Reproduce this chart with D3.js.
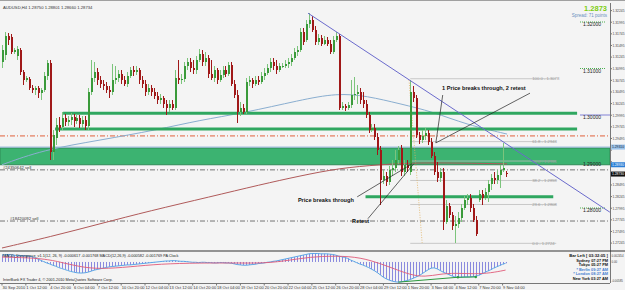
<!DOCTYPE html>
<html><head><meta charset="utf-8">
<script src="https://cdn.jsdelivr.net/npm/d3@7/dist/d3.min.js"></script>
<style>html,body{margin:0;padding:0;background:#fff;overflow:hidden}svg{display:block;font-family:"Liberation Sans",Arial,sans-serif}</style>
</head><body><svg id="c" width="625" height="290"></svg>
<script>
// ---------- DATA ----------
const symbolInfo = "AUDUSD,H4  1.28750 1.28801 1.28660 1.28734";
const opens = [1.3114,1.3129,1.3170,1.3168,1.3136,1.3127,1.3140,1.3093,1.3075,1.3077,1.3058,1.3054,1.3058,1.3047,1.3054,1.3084,1.3112,1.2921,1.2951,1.2979,1.2974,1.2994,1.2985,1.2989,1.2996,1.2987,1.2994,1.2981,1.2989,1.2976,1.3050,1.3080,1.3093,1.3075,1.3067,1.3062,1.3054,1.3050,1.3075,1.3080,1.3088,1.3075,1.3067,1.3084,1.3097,1.3093,1.3097,1.3075,1.3067,1.3050,1.3058,1.3050,1.3041,1.3032,1.3037,1.3024,1.3015,1.3024,1.3015,1.3080,1.3075,1.3077,1.3105,1.3114,1.3101,1.3097,1.3118,1.3131,1.3114,1.3123,1.3088,1.3080,1.3097,1.3075,1.3086,1.3097,1.3088,1.3108,1.3067,1.3043,1.3007,1.3015,1.3007,1.3071,1.3075,1.3067,1.3075,1.3071,1.3084,1.3090,1.3101,1.3114,1.3105,1.3097,1.3105,1.3105,1.3110,1.3114,1.3123,1.3136,1.3140,1.3179,1.3161,1.3196,1.3204,1.3183,1.3157,1.3166,1.3153,1.3161,1.3153,1.3136,1.3161,1.3170,1.3015,1.3019,1.3015,1.3022,1.3043,1.3045,1.3050,1.3032,1.3024,1.3000,1.2968,1.2972,1.2953,1.2925,1.2860,1.2869,1.2856,1.2882,1.2886,1.2903,1.2929,1.2878,1.2893,1.2878,1.3050,1.3037,1.2957,1.2946,1.2955,1.2961,1.2942,1.2912,1.2878,1.2865,1.2878,1.2770,1.2804,1.2785,1.2761,1.2766,1.2779,1.2800,1.2817,1.2822,1.2800,1.2774,1.2817,1.2830,1.2822,1.2835,1.2852,1.2865,1.2860,1.2871,1.2882,1.2875];
const highs = [1.3151,1.3179,1.3176,1.3174,1.3144,1.3148,1.3144,1.3097,1.3084,1.3082,1.3065,1.3062,1.3062,1.3058,1.3093,1.3118,1.3118,1.2968,1.2994,1.2996,1.3007,1.3002,1.2998,1.3004,1.3002,1.3002,1.3000,1.2998,1.2998,1.3058,1.3118,1.3114,1.3101,1.3084,1.3075,1.3071,1.3062,1.3110,1.3105,1.3097,1.3097,1.3084,1.3093,1.3103,1.3105,1.3105,1.3101,1.3084,1.3075,1.3067,1.3065,1.3058,1.3050,1.3045,1.3041,1.3032,1.3032,1.3032,1.3097,1.3118,1.3088,1.3114,1.3123,1.3123,1.3118,1.3127,1.3142,1.3140,1.3136,1.3129,1.3118,1.3105,1.3101,1.3097,1.3105,1.3105,1.3114,1.3114,1.3075,1.3054,1.3028,1.3024,1.3080,1.3084,1.3080,1.3084,1.3084,1.3093,1.3101,1.3110,1.3123,1.3123,1.3118,1.3112,1.3112,1.3118,1.3123,1.3131,1.3144,1.3148,1.3187,1.3187,1.3204,1.3219,1.3213,1.3191,1.3174,1.3172,1.3170,1.3168,1.3161,1.3170,1.3179,1.3174,1.3028,1.3024,1.3028,1.3075,1.3082,1.3065,1.3058,1.3050,1.3032,1.3007,1.2981,1.2981,1.2961,1.2933,1.2882,1.2878,1.2890,1.2903,1.2925,1.2933,1.2936,1.2903,1.2903,1.3075,1.3062,1.3043,1.2964,1.2968,1.2972,1.2968,1.2951,1.2921,1.2899,1.2886,1.2886,1.2817,1.2811,1.2792,1.2783,1.2792,1.2809,1.2826,1.2830,1.2830,1.2809,1.2783,1.2839,1.2839,1.2843,1.2860,1.2873,1.2878,1.2882,1.2893,1.2940,1.2880];
const lows = [1.3101,1.3118,1.3151,1.3131,1.3131,1.3118,1.3086,1.3065,1.3071,1.3054,1.3047,1.3043,1.3037,1.3032,1.3050,1.3075,1.2903,1.2903,1.2936,1.2964,1.2968,1.2976,1.2976,1.2979,1.2974,1.2981,1.2972,1.2972,1.2968,1.2968,1.3043,1.3071,1.3065,1.3058,1.3054,1.3047,1.3037,1.3043,1.3067,1.3071,1.3067,1.3062,1.3060,1.3080,1.3084,1.3086,1.3067,1.3058,1.3041,1.3043,1.3041,1.3034,1.3024,1.3024,1.3015,1.3000,1.3007,1.3011,1.3011,1.3067,1.3067,1.3071,1.3097,1.3093,1.3088,1.3088,1.3114,1.3105,1.3105,1.3080,1.3075,1.3071,1.3067,1.3071,1.3080,1.3082,1.3084,1.3062,1.3037,1.2983,1.2998,1.3002,1.3002,1.3062,1.3058,1.3062,1.3065,1.3067,1.3075,1.3086,1.3093,1.3097,1.3088,1.3093,1.3101,1.3101,1.3101,1.3105,1.3118,1.3127,1.3136,1.3151,1.3157,1.3187,1.3179,1.3151,1.3151,1.3148,1.3151,1.3148,1.3131,1.3131,1.3157,1.3011,1.3011,1.3009,1.3011,1.3015,1.3032,1.3024,1.3024,1.3015,1.2994,1.2961,1.2964,1.2946,1.2914,1.2807,1.2852,1.2847,1.2850,1.2869,1.2878,1.2895,1.2869,1.2869,1.2878,1.2871,1.3028,1.2951,1.2938,1.2940,1.2946,1.2936,1.2908,1.2871,1.2856,1.2856,1.2753,1.2766,1.2779,1.2753,1.2725,1.2757,1.2770,1.2796,1.2807,1.2792,1.2770,1.2740,1.2813,1.2807,1.2817,1.2813,1.2839,1.2852,1.2852,1.2843,1.2878,1.2866];
const closes = [1.3140,1.3170,1.3161,1.3136,1.3140,1.3142,1.3093,1.3075,1.3080,1.3058,1.3054,1.3058,1.3047,1.3054,1.3084,1.3112,1.2921,1.2957,1.2979,1.2972,1.2994,1.2985,1.2989,1.2996,1.2987,1.2994,1.2981,1.2989,1.2976,1.3050,1.3080,1.3093,1.3075,1.3067,1.3062,1.3054,1.3050,1.3075,1.3080,1.3088,1.3075,1.3067,1.3084,1.3097,1.3093,1.3097,1.3075,1.3067,1.3050,1.3058,1.3050,1.3041,1.3032,1.3037,1.3024,1.3015,1.3024,1.3015,1.3080,1.3075,1.3077,1.3105,1.3114,1.3101,1.3097,1.3118,1.3131,1.3114,1.3123,1.3088,1.3080,1.3097,1.3075,1.3086,1.3097,1.3088,1.3108,1.3067,1.3043,1.3007,1.3015,1.3007,1.3071,1.3075,1.3067,1.3075,1.3071,1.3084,1.3090,1.3101,1.3114,1.3105,1.3097,1.3105,1.3106,1.3110,1.3114,1.3123,1.3136,1.3140,1.3179,1.3157,1.3196,1.3204,1.3183,1.3157,1.3166,1.3153,1.3161,1.3153,1.3136,1.3161,1.3170,1.3015,1.3019,1.3015,1.3022,1.3043,1.3045,1.3050,1.3032,1.3024,1.3000,1.2968,1.2972,1.2953,1.2925,1.2860,1.2869,1.2856,1.2882,1.2886,1.2903,1.2925,1.2878,1.2893,1.2886,1.3050,1.3037,1.2957,1.2946,1.2955,1.2961,1.2942,1.2912,1.2878,1.2865,1.2878,1.2770,1.2804,1.2785,1.2761,1.2766,1.2779,1.2800,1.2817,1.2822,1.2800,1.2774,1.2744,1.2830,1.2822,1.2835,1.2852,1.2865,1.2860,1.2871,1.2882,1.2886,1.2873];

const dateLabels = ["30 Sep 2010","1 Oct 12:00","4 Oct 20:00","6 Oct 04:00","7 Oct 12:00","10 Oct 20:00","12 Oct 04:00","13 Oct 12:00","14 Oct 20:00","18 Oct 04:00","19 Oct 12:00","20 Oct 20:00","22 Oct 04:00","25 Oct 12:00","26 Oct 20:00","28 Oct 04:00","29 Oct 12:00","1 Nov 20:00","3 Nov 04:00","4 Nov 12:00","7 Nov 20:00","9 Nov 04:00"];
const priceTicks = [1.32245,1.31995,1.31745,1.31495,1.31245,1.30995,1.30745,1.30495,1.30245,1.29995,1.29745,1.29495,1.29245,1.28995,1.28745,1.28495,1.28245,1.27995,1.27745,1.27495,1.27245];
const roundLevels = [1.32,1.31,1.30,1.29,1.28];

// moving averages, sampled [bar, price]
const maFast = [[0,1.2893],[13.8,1.2925],[32.9,1.2946],[52,1.2968],[66.4,1.2989],[80.9,1.3004],[100,1.3032],[112.4,1.3047],[122.5,1.3041],[133.6,1.3024],[144.6,1.3007],[156,1.2979],[169.5,1.2959]];
const maSlow = [[0,1.2714],[16.1,1.2738],[32.9,1.2766],[49.7,1.2794],[69.8,1.2824],[86.6,1.2850],[100,1.2869],[113.4,1.2886],[126.8,1.2893],[136.9,1.2897],[150.3,1.2897],[169.5,1.2895]];

// support/resistance
const srLines = [{p:1.3004,from:20.5,to:193},{p:1.2970,from:17.8,to:193},{p:1.2824,from:122,to:185}];
const zoneTop = 1.2929, zoneBottom = 1.2893;
const blueLevel = 1.2931;
const redLevel = 1.2955;
const orderLevels = [{p:1.2882,label:"#24350642 sell",at:0.3},{p:1.2772,label:"#18420092 sell",at:2.7}];

// fibonacci
const fibLevels = [100.0,61.8,50.0,38.2,23.6,0.0];
const fibHigh = 1.3078, fibLow = 1.2724, fibFrom = 137, fibTo = 186;
const fibDiag = [[136.6,1.3075],[141,1.2725]];

// trendline
const trendLine = [[102.7,1.3219],[204,1.2791]];

// annotations [bar, price]
const notes = [
  {t:"1 Price breaks through, 2 retest", at:[147.7,1.3053]},
  {t:"Price breaks through", at:[99.3,1.2813]},
  {t:"Retest", at:[117.5,1.2768]}
];
const noteLines = [
  [[147.9,1.3043],[145.6,1.2940]],
  [[177.2,1.3047],[145.6,1.2940]],
  [[119.2,1.2824],[137.6,1.2895]],
  [[122.8,1.2777],[138.2,1.2895]]
];

// MACD
const macdHist = [0.0022,0.0022,0.0023,0.0022,0.0021,0.0020,0.0020,0.0019,0.0019,0.0018,0.0016,0.0013,0.0009,0.0005,0.0001,-0.0003,-0.0006,-0.0010,-0.0013,-0.0017,-0.0020,-0.0023,-0.0026,-0.0029,-0.0031,-0.0033,-0.0034,-0.0034,-0.0033,-0.0031,-0.0028,-0.0025,-0.0023,-0.0021,-0.0019,-0.0017,-0.0015,-0.0014,-0.0013,-0.0012,-0.0011,-0.0010,-0.0009,-0.0009,-0.0008,-0.0007,-0.0006,-0.0005,-0.0004,-0.0003,-0.0002,-0.0001,0.0000,0.0001,0.0002,0.0003,0.0003,0.0004,0.0004,0.0003,0.0002,0.0002,0.0001,0.0000,-0.0001,-0.0001,-0.0002,-0.0001,-0.0001,-0.0002,-0.0002,-0.0003,-0.0003,-0.0002,-0.0002,-0.0003,-0.0003,-0.0004,-0.0006,-0.0008,-0.0009,-0.0010,-0.0010,-0.0009,-0.0008,-0.0007,-0.0005,-0.0004,-0.0003,-0.0001,0.0000,0.0002,0.0003,0.0005,0.0007,0.0009,0.0011,0.0013,0.0015,0.0017,0.0019,0.0021,0.0023,0.0025,0.0026,0.0026,0.0026,0.0025,0.0025,0.0025,0.0024,0.0023,0.0021,0.0018,0.0016,0.0014,0.0011,0.0006,0.0002,-0.0002,-0.0006,-0.0009,-0.0013,-0.0017,-0.0022,-0.0027,-0.0033,-0.0040,-0.0047,-0.0052,-0.0056,-0.0059,-0.0061,-0.0062,-0.0061,-0.0059,-0.0057,-0.0054,-0.0050,-0.0046,-0.0042,-0.0036,-0.0030,-0.0024,-0.0019,-0.0018,-0.0021,-0.0026,-0.0031,-0.0035,-0.0039,-0.0043,-0.0046,-0.0047,-0.0047,-0.0046,-0.0046,-0.0046,-0.0045,-0.0044,-0.0041,-0.0037,-0.0032,-0.0028,-0.0024,-0.0019,-0.0015,-0.0011,-0.0007,-0.0004];
const macdSignal = [[0,0.0015],[13,0.0012],[19.5,0],[26,-0.0015],[33,-0.0022],[43,-0.0015],[53,-0.0006],[66,-0.0003],[80,-0.0003],[90,-0.0004],[100,0.0011],[107,0.0018],[117,0.0018],[123.5,0.0006],[130,-0.0015],[137,-0.0040],[142,-0.0046],[147,-0.0037],[152,-0.0034],[158.7,-0.0037],[164,-0.0034],[169,-0.0025]];
const divergence = [[133,-0.0062],[153,-0.0047],[159,-0.0046]];
const macdTicks = [{v:0.00245,t:"0.002454"},{v:0,t:"0.00"},{v:-0.00585,t:"-0.00585"}];
const macdTitle = "MACD_Divergence_v1.1(12, 26, 9) -0.000617 -0.001768   MACD(12,26,9) -0.000582 -0.001769   PA Clock";
const clockRows = [["Sydney","07:27 PM",0],["Tokyo","05:27 PM",0],["* Berlin","09:27 AM",1],["* London","08:27 AM",1],["New York","03:27 AM",0]];
const barLeft = "Bar Left [ 03:32:05 ]";
const spreadText = "Spread: 71 points";
const footer = "InterBank FX Trader 4, \u00a9 2001-2010 MetaQuotes Software Corp.";

// ---------- SCALES ----------
const W = 625, H = 290, plotR = 610, plotT = 3, plotB = 250;
const x = d3.scaleLinear().domain([0,168]).range([2,502.6]);
const y = d3.scaleLinear().domain([1.28,1.32]).range([208,22]);
const ym = d3.scaleLinear().domain([-0.00585,0.00245]).range([281,254]);

const svg = d3.select("#c");
svg.append("rect").attr("width",W).attr("height",H).attr("fill","#f4f4f4");
svg.append("line").attr("x1",0).attr("x2",W).attr("y1",0.5).attr("y2",0.5).attr("stroke","#a0a0a0");

const defs = svg.append("defs");
defs.append("clipPath").attr("id","mainclip").append("rect").attr("x",0).attr("y",plotT).attr("width",plotR).attr("height",plotB-plotT);
defs.append("clipPath").attr("id","subclip").append("rect").attr("x",0).attr("y",252).attr("width",plotR).attr("height",31);

const g = svg.append("g").attr("clip-path","url(#mainclip)");

// zone
g.append("rect").attr("x",0).attr("width",plotR).attr("y",y(zoneTop)).attr("height",y(zoneBottom)-y(zoneTop))
 .attr("fill","#3cb371").attr("stroke","#2e8b57").attr("stroke-width",1);
// horizontal levels
g.append("line").attr("x1",0).attr("x2",plotR).attr("y1",y(blueLevel)).attr("y2",y(blueLevel)).attr("stroke","#8fb4d8").attr("stroke-width",1);
g.append("line").attr("x1",0).attr("x2",plotR).attr("y1",y(redLevel)).attr("y2",y(redLevel)).attr("stroke","#e0603a").attr("stroke-width",1).attr("stroke-dasharray","5,2,1,2");
orderLevels.forEach(o=>{
  g.append("line").attr("x1",0).attr("x2",plotR).attr("y1",y(o.p)).attr("y2",y(o.p)).attr("stroke","#555").attr("stroke-width",0.8).attr("stroke-dasharray","5,2,1,2");
  g.append("text").attr("x",x(o.at)).attr("y",y(o.p)-1).attr("font-size",4.2).attr("fill","#333").text(o.label);
});

// fibonacci
fibLevels.forEach(l=>{
  const p = fibLow + (fibHigh-fibLow)*l/100;
  g.append("line").attr("x1",x(fibFrom)).attr("x2",x(fibTo)).attr("y1",y(p)).attr("y2",y(p)).attr("stroke","#bdbdbd").attr("stroke-width",0.8);
  g.append("text").attr("x",x(fibTo)-24).attr("y",y(p)+1.5).attr("font-size",4.2).attr("fill","#9a9a9a").text(d3.format(".1f")(l)+" - "+d3.format(".4f")(p));
});
const ln = d3.line().x(d=>x(d[0])).y(d=>y(d[1]));
g.append("path").attr("d",ln(fibDiag)).attr("stroke","#e0b060").attr("stroke-width",0.8).attr("stroke-dasharray","1,1.5").attr("fill","none");

// round level labels
roundLevels.forEach(p=>{
  if (p===1.30) g.append("line").attr("x1",580).attr("x2",plotR).attr("y1",y(p)).attr("y2",y(p)).attr("stroke","#a8a8e0").attr("stroke-width",1.5);
  else if (p!==1.29) g.append("line").attr("x1",580).attr("x2",605).attr("y1",y(p)).attr("y2",y(p)).attr("stroke","#4caf50").attr("stroke-width",1).attr("stroke-dasharray","1,1");
  g.append("text").attr("x",601).attr("y",y(p)+4).attr("text-anchor","end").attr("font-size",5).attr("fill","#222").text(d3.format(".5f")(p));
});

// MAs
const lc = d3.line().x(d=>x(d[0])).y(d=>y(d[1])).curve(d3.curveBasis);
g.append("path").attr("d",lc(maFast)).attr("fill","none").attr("stroke","#8aaed0").attr("stroke-width",1);
g.append("path").attr("d",lc(maSlow)).attr("fill","none").attr("stroke","#b05a5a").attr("stroke-width",1);

// S/R lines
srLines.forEach(s=>{
  g.append("line").attr("x1",x(s.from)).attr("x2",x(s.to)).attr("y1",y(s.p)).attr("y2",y(s.p)).attr("stroke","#2fa760").attr("stroke-width",3);
});

// candles
const idx = d3.range(closes.length);
const cg = g.append("g").attr("shape-rendering","crispEdges");
idx.forEach(i=>{
  const up = closes[i] >= opens[i];
  const col = up ? "#3a9a3a" : "#a01818";
  const xc = Math.round(x(i));
  cg.append("line").attr("x1",xc+0.5).attr("x2",xc+0.5).attr("y1",y(highs[i])).attr("y2",y(lows[i])).attr("stroke",up?"#7cc47c":"#a01818").attr("stroke-width",1);
  const top = y(Math.max(opens[i],closes[i])), bot = y(Math.min(opens[i],closes[i]));
  cg.append("rect").attr("x",xc-0.5).attr("width",2).attr("y",top).attr("height",Math.max(1,bot-top)).attr("fill",col);
});

// trendline
g.append("path").attr("d",ln(trendLine)).attr("stroke","#6a6acc").attr("stroke-width",1).attr("fill","none");

// annotations
noteLines.forEach(l=>g.append("path").attr("d",ln(l)).attr("stroke","#222").attr("stroke-width",0.7).attr("fill","none"));
notes.forEach(n=>{
  g.append("text").attr("x",x(n.at[0])).attr("y",y(n.at[1])).attr("font-size",5.6).attr("font-weight","bold").attr("fill","#111").text(n.t);
});

// top texts
svg.append("text").attr("x",3).attr("y",9).attr("font-size",4.2).attr("fill","#333").text(symbolInfo);
svg.append("text").attr("x",607).attr("y",11).attr("text-anchor","end").attr("font-size",7.5).attr("font-weight","bold").attr("fill","#7ccd10").text(d3.format(".4f")(closes[closes.length-1]));
svg.append("text").attr("x",607).attr("y",17).attr("text-anchor","end").attr("font-size",4.5).attr("fill","#6a90c0").text(spreadText);

// right axis
const boxes = [[blueLevel,"#9cc3ea","#123"],[zoneBottom,"#2b7fd6","#fff"],[closes[closes.length-1],"#111","#fff"]];
svg.append("line").attr("x1",plotR+0.5).attr("x2",plotR+0.5).attr("y1",plotT).attr("y2",283).attr("stroke","#777");
priceTicks.forEach(p=>{
  svg.append("line").attr("x1",plotR).attr("x2",plotR+2).attr("y1",y(p)).attr("y2",y(p)).attr("stroke","#777");
  if (boxes.some(b=>Math.abs(y(b[0])-y(p))<5)) return;
  svg.append("text").attr("x",plotR+2.5).attr("y",y(p)+1.3).attr("font-size",3.6).attr("textLength",12).attr("lengthAdjust","spacingAndGlyphs").attr("fill","#444").text(d3.format(".5f")(p));
});
// price boxes
boxes.forEach(b=>{
  svg.append("rect").attr("x",plotR+1).attr("y",y(b[0])-2.5).attr("width",W-plotR-1).attr("height",5).attr("fill",b[1]);
  svg.append("text").attr("x",plotR+2).attr("y",y(b[0])+1.4).attr("font-size",3.6).attr("textLength",12).attr("lengthAdjust","spacingAndGlyphs").attr("fill",b[2]).text(d3.format(".5f")(b[0]));
});

// ---------- MACD sub window ----------
svg.append("line").attr("x1",0).attr("x2",W).attr("y1",251).attr("y2",251).attr("stroke","#333").attr("stroke-width",1.2);
svg.append("line").attr("x1",0).attr("x2",plotR).attr("y1",283.5).attr("y2",283.5).attr("stroke","#777");
const sg = svg.append("g").attr("clip-path","url(#subclip)");
idx.forEach(i=>{
  sg.append("line").attr("x1",Math.round(x(i))+0.5).attr("x2",Math.round(x(i))+0.5).attr("y1",ym(0)).attr("y2",ym(macdHist[i])).attr("stroke","#6f6fd8").attr("stroke-width",0.8);
});
const lm = d3.line().x(d=>x(d[0])).y(d=>ym(d[1]));
sg.append("path").attr("d",lm(idx.map(i=>[i,macdHist[i]]))).attr("fill","none").attr("stroke","#5aa6e6").attr("stroke-width",1);
sg.append("path").attr("d",d3.line().x(d=>x(d[0])).y(d=>ym(d[1])).curve(d3.curveBasis)(macdSignal)).attr("fill","none").attr("stroke","#e05a78").attr("stroke-width",0.9);
sg.append("path").attr("d",lm(divergence)).attr("fill","none").attr("stroke","#2e9a3e").attr("stroke-width",1);
divergence.slice(1).forEach(d=>sg.append("circle").attr("cx",x(d[0])).attr("cy",ym(d[1])).attr("r",1.2).attr("fill","#2e9a3e"));
svg.append("text").attr("x",3).attr("y",256.5).attr("font-size",3.8).attr("fill","#222").text(macdTitle);
svg.append("text").attr("x",3).attr("y",280.5).attr("font-size",3.8).attr("fill","#222").text(footer);
macdTicks.forEach(t=>{
  const yy = Math.max(256.5, Math.min(281.5, ym(t.v)+1.5));
  svg.append("text").attr("x",plotR+1.5).attr("y",yy).attr("font-size",2.9).attr("fill","#444").text(t.t);
});
// clock
svg.append("rect").attr("x",560).attr("y",252).attr("width",plotR-560).attr("height",31).attr("fill","#f4f4f4");
svg.append("text").attr("x",608).attr("y",257).attr("text-anchor","end").attr("font-size",4.2).attr("font-weight","bold").attr("fill","#111").text(barLeft);
clockRows.forEach((r,k)=>{
  const yy = 261.8 + k*4.5;
  const c = r[2] ? "#4a80d0" : "#111";
  svg.append("text").attr("x",590).attr("y",yy).attr("text-anchor","end").attr("font-size",3.9).attr("font-weight","bold").attr("fill",c).text(r[0]);
  svg.append("text").attr("x",608).attr("y",yy).attr("text-anchor","end").attr("font-size",3.9).attr("font-weight","bold").attr("fill",c).text(r[1]);
});

// ---------- date axis ----------
dateLabels.forEach((d,k)=>{
  const xx = x(k*8);
  svg.append("line").attr("x1",xx).attr("x2",xx).attr("y1",283.5).attr("y2",285.5).attr("stroke","#777");
  svg.append("text").attr("x",xx+0.5).attr("y",289).attr("font-size",4).attr("fill","#333").text(d);
});
</script></body></html>
